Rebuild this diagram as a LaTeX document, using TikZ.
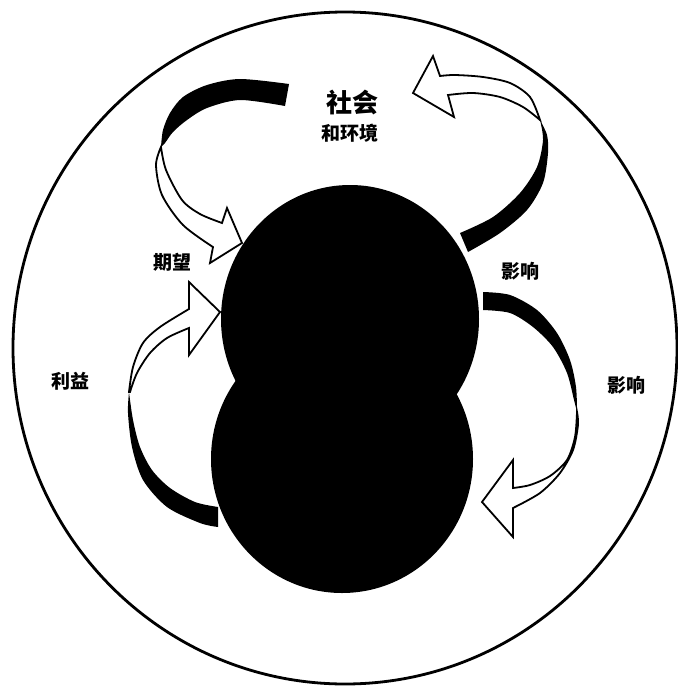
\documentclass[tikz,border=0pt]{standalone}
\usepackage{fontspec}
\newfontfamily\cjk{Noto Sans CJK SC}
\begin{document}
\begin{tikzpicture}[x=0.5pt,y=-0.5pt,
  band/.style={fill=black},
  ribbon/.style={fill=white,draw=black,line width=0.9pt,line join=miter},
  lab/.style={font=\cjk\bfseries\fontsize{9.5}{10}\selectfont,inner sep=0pt},
  biglab/.style={font=\cjk\bfseries\fontsize{13}{14}\selectfont,inner sep=0pt}]
\useasboundingbox (0,0) rectangle (678,686);
% outer circle
\draw[line width=1.4pt] (345,348) ellipse [x radius=166pt, y radius=168pt];
% arrow 1 (top left)
\fill[band] plot[smooth] coordinates {(289,84) (240,79) (207,85) (183,97) (170,113) (163,130) (161,147)}
  -- plot[smooth] coordinates {(161,147) (165,143) (173,132) (187,120) (207,108) (240,100) (285,106)} -- cycle;
\filldraw[ribbon] plot[smooth] coordinates {(161,147) (166,170) (182,200) (200,214) (222,223)}
  -- (227,208) -- (242,243) -- (210,263)
  -- plot[smooth] coordinates {(213,247) (183,225) (162,195) (156,165) (161,147)} -- cycle;
% arrow 2 (left)
\fill[band] plot[smooth] coordinates {(218,527) (200,523) (167,507) (143,480) (132,447) (128,413) (129,392)}
  -- plot[smooth] coordinates {(129,392) (133,420) (140,447) (152,470) (170,488) (195,502) (218,507)} -- cycle;
\filldraw[ribbon] plot[smooth] coordinates {(129,392) (133,367) (143,343) (160,327) (189,309)}
  -- (189,282) -- (220,312) -- (189,355)
  -- plot[smooth] coordinates {(189,328) (167,338) (150,353) (137,373) (130,392)} -- cycle;
% arrow 3 (top right)
\fill[band] plot[smooth] coordinates {(460,233) (493,217) (520,193) (537,167) (543,140) (540,120)}
  -- plot[smooth] coordinates {(540,120) (547,135) (548,153) (543,183) (527,210) (500,233) (468,252)} -- cycle;
\filldraw[ribbon] plot[smooth] coordinates {(540,120) (530,97) (510,83) (483,77) (455,75) (440,76)}
  -- (433,56) -- (413,93) -- (454,117)
  -- plot[smooth] coordinates {(448,95) (473,93) (500,97) (523,107) (540,120)} -- cycle;
% arrow 4 (right)
\fill[band] plot[smooth] coordinates {(483,292) (510,295) (537,310) (557,333) (570,360) (576,387) (577,412)}
  -- plot[smooth] coordinates {(577,412) (574,400) (567,373) (553,347) (533,327) (510,313) (483,310)} -- cycle;
\filldraw[ribbon] plot[smooth] coordinates {(577,412) (575,437) (567,460) (550,476) (530,485) (513,488)}
  -- (513,460) -- (482,502) -- (513,537)
  -- plot[smooth] coordinates {(513,508) (540,493) (560,473) (573,450) (578,425) (577,412)} -- cycle;
% central black circles
\fill (350,319) ellipse [x radius=64.5pt, y radius=67pt];
\fill (342,459) ellipse [x radius=65.5pt, y radius=67pt];
% labels
\node[biglab] (society) at (352,103) {社会};
\node[lab] (env) at (350,133) {和环境};
\node[lab] (expect) at (172,262) {期望};
\node[lab] (benefit) at (70,381) {利益};
\node[lab] (impact1) at (520,271) {影响};
\node[lab] (impact2) at (626,385) {影响};
\end{tikzpicture}
\end{document}
